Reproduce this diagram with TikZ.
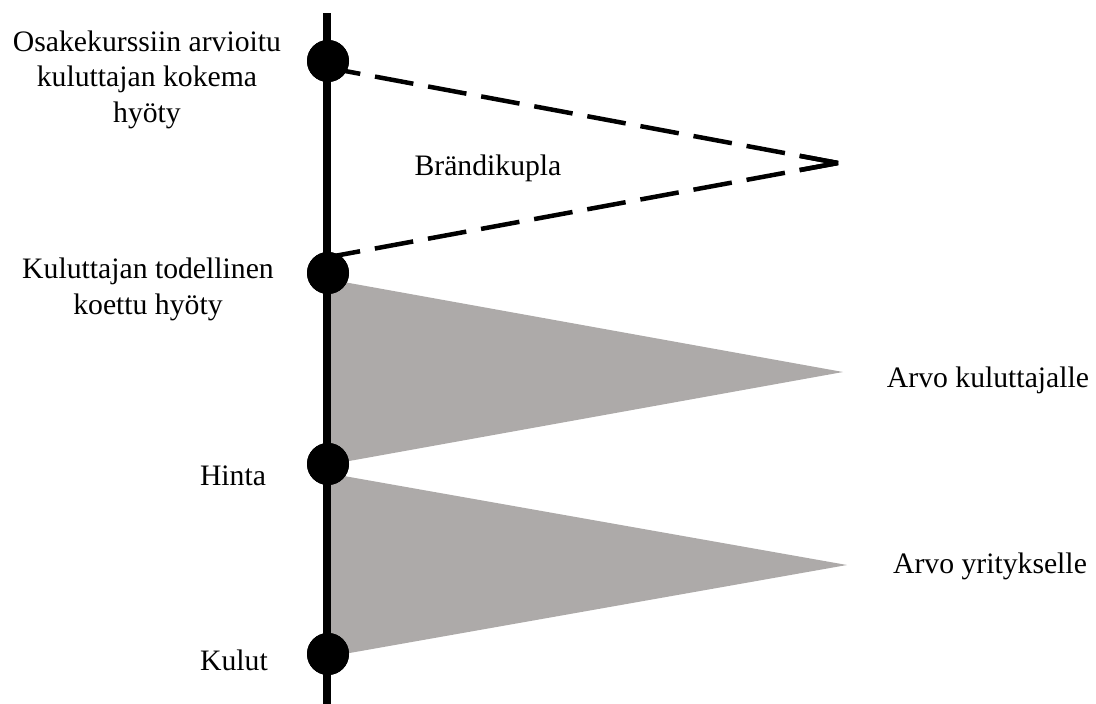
\documentclass[tikz,border=0pt]{standalone}
\usepackage{fontspec}
\setmainfont{Liberation Serif}
\usetikzlibrary{calc}
\definecolor{wedgegray}{RGB}{173,170,169}
\begin{document}
\begin{tikzpicture}[x=1pt,y=-1pt,
  dot/.style={circle,fill=black,inner sep=0pt,minimum size=42pt},
  lbl/.style={font=\fontsize{29.7}{35.5}\selectfont,inner sep=0pt,align=center,anchor=base},
  wedge/.style={fill=wedgegray,draw=none},
  bubble/.style={line width=4.5pt,dash pattern=on 39pt off 15pt},
  tip/.style={line width=4.5pt,line join=bevel}]
\useasboundingbox (0,0) rectangle (1096,704);
% axis coordinates
\coordinate (top) at (327,13);
\coordinate (bottom) at (327,704);
\coordinate (apexB) at (838,163);
\coordinate (apexC) at (843,372);
\coordinate (apexF) at (847,565);
\coordinate (b1) at (329,68);
\coordinate (b2) at (329,257);
% wedges
\fill[wedge] (327,279) -- (apexC) -- (327,465) -- cycle;
\fill[wedge] (327,473) -- (apexF) -- (327,657) -- cycle;
% dots
\node[dot] (d1) at (328,61) {};
\node[dot] (d2) at (328,273) {};
\node[dot] (d3) at (328,464) {};
\node[dot] (d4) at (328,654) {};
% dashed bubble
\draw[bubble] (apexB) -- (b1);
\draw[bubble] (apexB) -- (b2);
\draw[tip] ($(apexB)!39pt!(b1)$) -- (apexB) -- ($(apexB)!39pt!(b2)$);
% axis
\draw[line width=8pt] (top) -- (bottom);
\node[dot] at (d1) {};
\node[dot] at (d2) {};
\node[dot] at (d3) {};
\node[dot] at (d4) {};
% labels
\node[lbl] (t1) at (147,122) {Osakekurssiin arvioitu\\kuluttajan kokema\\hyöty};
\node[lbl] (t2) at (148,314) {Kuluttajan todellinen\\koettu hyöty};
\node[lbl] (t3) at (233,485) {Hinta};
\node[lbl] (t4) at (234,670) {Kulut};
\node[lbl] (t5) at (488,175) {Brändikupla};
\node[lbl] (t6) at (988,387) {Arvo kuluttajalle};
\node[lbl] (t7) at (990,573) {Arvo yritykselle};
\end{tikzpicture}
\end{document}
